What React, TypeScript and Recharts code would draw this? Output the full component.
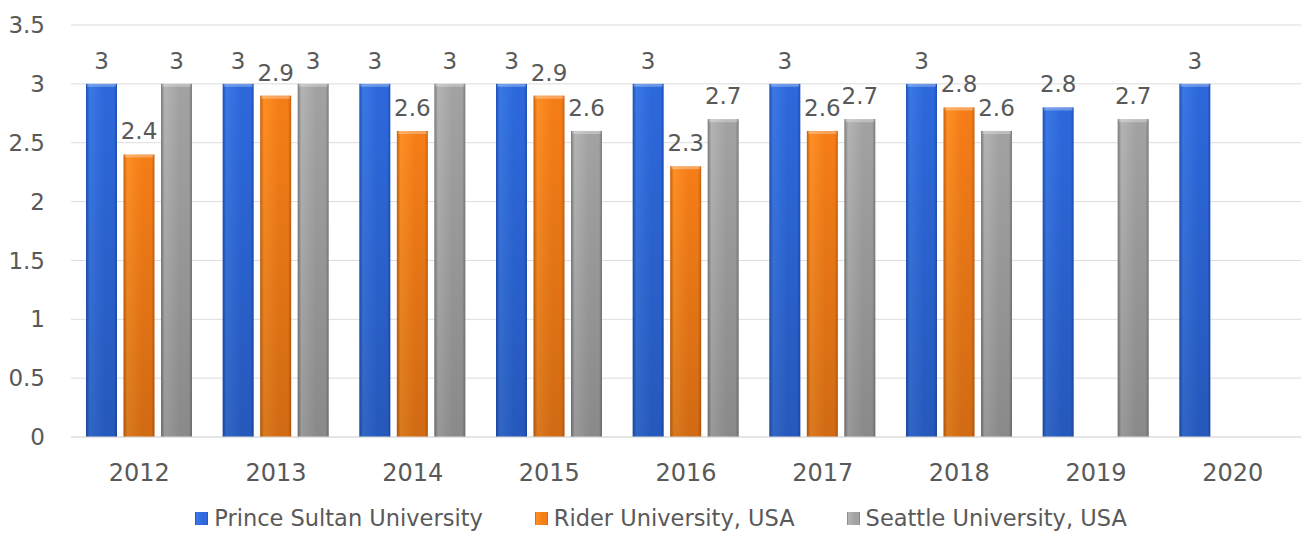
import React from 'react';
import { BarChart, Bar, XAxis, YAxis, CartesianGrid, LabelList, Legend } from 'recharts';

const YEARS = ['2012', '2013', '2014', '2015', '2016', '2017', '2018', '2019', '2020'];
const PRINCE_SULTAN = [3, 3, 3, 3, 3, 3, 3, 2.8, 3];
const RIDER = [2.4, 2.9, 2.6, 2.9, 2.3, 2.6, 2.8, null, null];
const SEATTLE = [3, 3, 3, 2.6, 2.7, 2.7, 2.6, 2.7, null];
const Y_TICKS = [0, 0.5, 1, 1.5, 2, 2.5, 3, 3.5];

const SERIES = [
  { key: 'prince', name: 'Prince Sultan University', tone: 'blue' },
  { key: 'rider', name: 'Rider University, USA', tone: 'orange' },
  { key: 'seattle', name: 'Seattle University, USA', tone: 'gray' },
];

const TONES: Record<string, { edge: string; light: string; base: string }> = {
  blue: { edge: '#1d4fb5', light: '#3a78e6', base: '#2d68dc' },
  orange: { edge: '#c95f0c', light: '#ff8f24', base: '#f57d17' },
  gray: { edge: '#7a7a7a', light: '#b4b4b4', base: '#a2a2a2' },
};

const TEXT = '#595959';
const FONT = '"DejaVu Sans", Verdana, sans-serif';

const data = YEARS.map((year, i) => ({
  year,
  prince: PRINCE_SULTAN[i],
  rider: RIDER[i],
  seattle: SEATTLE[i],
}));

function GradBar(props: any) {
  const { x, y, width, height, tone } = props;
  if (!height || height <= 0) return null;
  return (
    <g>
      <rect x={x} y={y} width={width} height={height} fill={`url(#h-${tone})`} />
      <rect x={x} y={y} width={width} height={height} fill="url(#v-shade)" />
      <rect x={x + 1} y={y} width={width - 2} height={3} fill="#fff" opacity={0.3} rx={1.5} />
    </g>
  );
}

function LegendContent() {
  return (
    <div
      style={{
        display: 'flex',
        justifyContent: 'center',
        gap: 52,
        paddingLeft: 19,
        fontFamily: FONT,
        fontSize: 22.5,
        color: TEXT,
      }}
    >
      {SERIES.map((s) => (
        <div key={s.key} style={{ display: 'flex', alignItems: 'center' }}>
          <svg width={13} height={13} style={{ marginRight: 6 }}>
            <rect x={0} y={0} width={13} height={13} fill={`url(#h-${s.tone})`} />
          </svg>
          <span>{s.name}</span>
        </div>
      ))}
    </div>
  );
}

export default function App() {
  return (
    <div style={{ position: 'relative', width: 1303, height: 539, background: '#fff' }}>
      <style>{'body{margin:0}'}</style>
      <svg width={0} height={0} style={{ position: 'absolute' }}>
        <defs>
          {Object.entries(TONES).map(([tone, c]) => (
            <linearGradient key={tone} id={`h-${tone}`} x1="0" y1="0" x2="1" y2="0">
              <stop offset="0%" stopColor={c.edge} />
              <stop offset="12%" stopColor={c.light} />
              <stop offset="60%" stopColor={c.base} />
              <stop offset="90%" stopColor={c.base} />
              <stop offset="100%" stopColor={c.edge} />
            </linearGradient>
          ))}
          <linearGradient id="v-shade" x1="0" y1="0" x2="0" y2="1">
            <stop offset="0%" stopColor="#000" stopOpacity={0} />
            <stop offset="100%" stopColor="#000" stopOpacity={0.15} />
          </linearGradient>
        </defs>
      </svg>
      <BarChart
        width={1303}
        height={539}
        data={data}
        margin={{ top: 25, right: 2, left: 0, bottom: 36 }}
        barSize={31}
        barGap={6.5}
      >
        <CartesianGrid vertical={false} stroke="#dcdcdc" />
        <XAxis
          dataKey="year"
          axisLine={{ stroke: '#dcdcdc' }}
          tickLine={false}
          tickSize={0}
          tickMargin={27}
          height={40}
          tick={{ fill: TEXT, fontSize: 24, fontFamily: FONT }}
        />
        <YAxis
          domain={[0, 3.5]}
          ticks={Y_TICKS}
          axisLine={false}
          tickLine={false}
          tickSize={0}
          tickMargin={26}
          width={71}
          tick={{ fill: TEXT, fontSize: 23, fontFamily: FONT }}
        />
        <Legend
          verticalAlign="bottom"
          wrapperStyle={{ left: 0, top: 505, width: 1303 }}
          content={() => <LegendContent />}
        />
        {SERIES.map((s) => (
          <Bar
            key={s.key}
            dataKey={s.key}
            name={s.name}
            fill={TONES[s.tone].base}
            isAnimationActive={false}
            shape={(p: any) => <GradBar {...p} tone={s.tone} />}
          >
            <LabelList
              dataKey={s.key}
              position="top"
              offset={15}
              fill={TEXT}
              fontSize={23}
              fontFamily={FONT}
            />
          </Bar>
        ))}
      </BarChart>
    </div>
  );
}
